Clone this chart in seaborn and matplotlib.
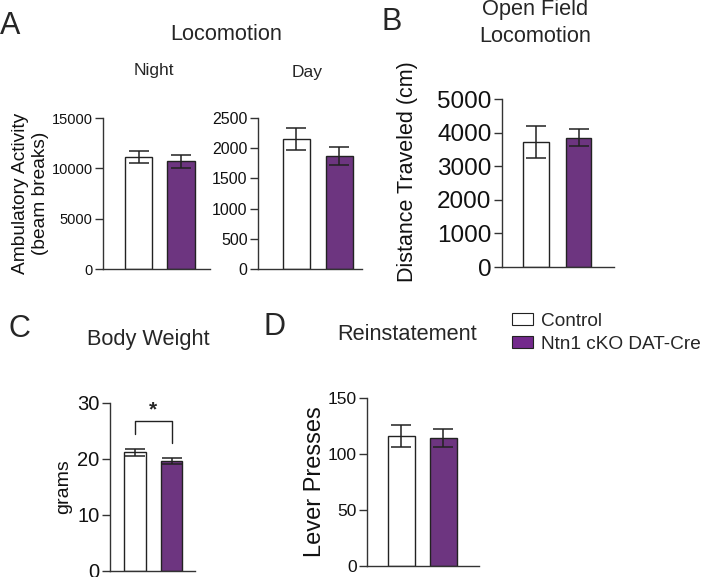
import matplotlib
matplotlib.use("Agg")
import matplotlib.pyplot as plt
import seaborn as sns
import pandas as pd
from matplotlib.patches import Patch

sns.set_theme(style="ticks")
plt.rcParams['font.family'] = ['Liberation Sans', 'DejaVu Sans']

groups = ["Control", "Ntn1 cKO DAT-Cre"]
colors = ["#ffffff", "#73298c"]

# values (mean, sem)
night_mean = [11100, 10700]
night_sem = [600, 620]
day_mean = [2150, 1870]
day_sem = [180, 150]
openfield_mean = [3720, 3850]
openfield_sem = [470, 260]
weight_mean = [21.2, 19.6]
weight_sem = [0.65, 0.55]
reinst_mean = [116, 114]
reinst_sem = [9.5, 8.0]

W, H = 707, 577
fig = plt.figure(figsize=(W / 100, H / 100), dpi=100)


def make_ax(l, r, t, b):
    return fig.add_axes([l / W, 1 - b / H, (r - l) / W, (b - t) / H])


def bars(ax, mean, sem, ymax, yticks, width, xlim, tick_fs, ylabel=None, ylab_fs=13, lpad=4):
    df = pd.DataFrame({"group": groups, "value": mean})
    sns.barplot(data=df, x="group", y="value", hue="group", palette=colors,
                edgecolor="#222222", linewidth=1.0, width=width, errorbar=None,
                legend=False, ax=ax)
    ax.errorbar([0, 1], mean, yerr=sem, fmt="none", ecolor="#222222",
                elinewidth=1.1, capsize=7, capthick=1.1)
    ax.set_ylim(0, ymax)
    ax.set_xlim(*xlim)
    ax.set_yticks(yticks)
    ax.set_xticks([])
    ax.set_xlabel("")
    ax.set_ylabel(ylabel if ylabel else "", fontsize=ylab_fs, color="#111111",
                  labelpad=lpad)
    ax.tick_params(axis="y", labelsize=tick_fs, length=6, width=1, color="#333333",
                   labelcolor="#111111", pad=1.5)
    for s in ["top", "right"]:
        ax.spines[s].set_visible(False)
    for s in ["left", "bottom"]:
        ax.spines[s].set_linewidth(1.0)
        ax.spines[s].set_color("#333333")


# A - Night
ax1 = make_ax(103, 210, 118, 269)
bars(ax1, night_mean, night_sem, 15000, [0, 5000, 10000, 15000], 0.64,
     (-0.835, 1.68), 10.5, "Ambulatory Activity\n(beam breaks)", 13.8, 2)

# A - Day
ax2 = make_ax(258, 362, 118, 269)
bars(ax2, day_mean, day_sem, 2500, [0, 500, 1000, 1500, 2000, 2500], 0.63,
     (-0.895, 1.53), 11.5)

# B
ax3 = make_ax(502, 614, 99, 267)
bars(ax3, openfield_mean, openfield_sem, 5000, [0, 1000, 2000, 3000, 4000, 5000],
     0.61, (-0.8, 1.835), 17.5, "Distance Traveled (cm)", 15.5, 1)
ax3.yaxis.set_label_coords(-0.75, 0.565)

# C
ax4 = make_ax(110, 195, 403, 571)
bars(ax4, weight_mean, weight_sem, 30, [0, 10, 20, 30], 0.59,
     (-0.68, 1.64), 14.5, "grams", 14, 4)
ax4.plot([0, 0, 1, 1], [24.5, 26.8, 26.8, 22.9], color="#222222", lw=1.0)
ax4.text(0.5, 27.1, "*", ha="center", va="bottom", fontsize=15, fontweight="bold")

# D
ax5 = make_ax(367, 479, 398, 566)
bars(ax5, reinst_mean, reinst_sem, 150, [0, 50, 100, 150], 0.64,
     (-0.82, 1.845), 12.5, "Lever Presses", 17, 1)

# titles and panel letters
tfs = 15.7
fig.text(226 / W, 1 - 34 / H, "Locomotion", ha="center", va="center", fontsize=tfs)
fig.text(154 / W, 1 - 70 / H, "Night", ha="center", va="center", fontsize=12.5)
fig.text(307 / W, 1 - 73 / H, "Day", ha="center", va="center", fontsize=12.5)
fig.text(535 / W, 1 - 10 / H, "Open Field", ha="center", va="center", fontsize=tfs)
fig.text(535 / W, 1 - 36 / H, "Locomotion", ha="center", va="center", fontsize=tfs)
fig.text(148 / W, 1 - 339 / H, "Body Weight", ha="center", va="center", fontsize=tfs)
fig.text(407 / W, 1 - 335 / H, "Reinstatement", ha="center", va="center", fontsize=tfs)

for x, y, s in [(0, 26, "A"), (382, 22, "B"), (9, 329, "C"), (264, 327, "D")]:
    fig.text(x / W, 1 - y / H, s, ha="left", va="center", fontsize=22)

handles = [Patch(facecolor=c, edgecolor="#222222", linewidth=0.8) for c in colors]
fig.legend(handles, groups, loc="upper left", bbox_to_anchor=(512 / W, 1 - 313 / H),
           frameon=False, fontsize=13.7, handlelength=1.1, handleheight=0.6,
           handletextpad=0.4, labelspacing=0.3, borderaxespad=0, borderpad=0)

fig.savefig("out.png", dpi=100)
